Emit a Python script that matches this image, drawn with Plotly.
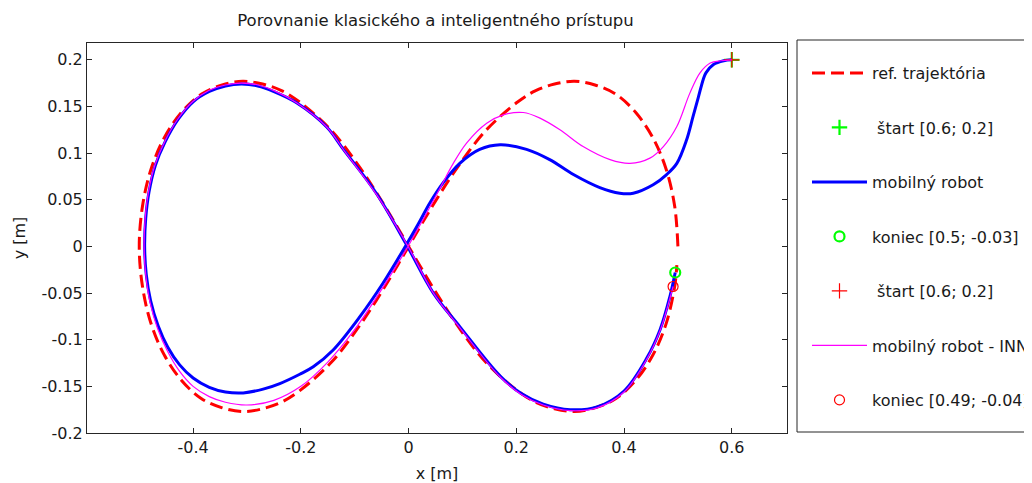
import plotly.graph_objects as go

# ---------------- data ----------------
ref_x = [0.500, 0.494, 0.478, 0.453, 0.421, 0.385, 0.346, 0.308, 0.271, 0.236, 0.203, 0.143, 0.091, 0.044, 0.000,
         -0.044, -0.091, -0.143, -0.203, -0.236, -0.271, -0.308, -0.346, -0.385, -0.421, -0.453, -0.478, -0.494, -0.500,
         -0.494, -0.478, -0.453, -0.421, -0.385, -0.346, -0.308, -0.271, -0.236, -0.203, -0.143, -0.091, -0.044, 0.000,
         0.044, 0.091, 0.143, 0.203, 0.236, 0.271, 0.308, 0.346, 0.385, 0.421, 0.453, 0.478, 0.494, 0.498]
ref_y = [0.000, 0.043, 0.083, 0.117, 0.144, 0.163, 0.173, 0.177, 0.174, 0.167, 0.155, 0.124, 0.085, 0.043, 0.000,
         -0.043, -0.085, -0.124, -0.155, -0.167, -0.174, -0.177, -0.173, -0.163, -0.144, -0.117, -0.083, -0.043, 0.000,
         0.043, 0.083, 0.117, 0.144, 0.163, 0.173, 0.177, 0.174, 0.167, 0.155, 0.124, 0.085, 0.043, 0.000,
         -0.043, -0.085, -0.124, -0.155, -0.167, -0.174, -0.177, -0.173, -0.163, -0.144, -0.117, -0.083, -0.043, -0.020]

robot_x = [0.600, 0.585, 0.566, 0.552, 0.547, 0.538, 0.528, 0.516, 0.498, 0.479, 0.454, 0.417,
           0.392, 0.355, 0.306, 0.262, 0.219, 0.170, 0.132, 0.095, 0.064, 0.040, 0.018, -0.004,
           -0.047, -0.090, -0.140, -0.177, -0.202, -0.239, -0.270, -0.307, -0.340, -0.370, -0.400,
           -0.425, -0.447, -0.465, -0.479, -0.487, -0.490, -0.488, -0.482, -0.470, -0.452, -0.428,
           -0.400, -0.370, -0.340, -0.310, -0.280, -0.250, -0.208, -0.152,
           -0.121, -0.060, -0.004, 0.046, 0.095, 0.170, 0.210, 0.250, 0.300, 0.350, 0.400, 0.442,
           0.467, 0.485, 0.495]
robot_y = [0.200, 0.199, 0.195, 0.186, 0.179, 0.160, 0.139, 0.114, 0.089, 0.077, 0.066, 0.057,
           0.057, 0.063, 0.077, 0.093, 0.104, 0.109, 0.104, 0.089, 0.068, 0.047, 0.024, 0.002,
           -0.039, -0.075, -0.111, -0.129, -0.137, -0.147, -0.153, -0.157, -0.156, -0.151, -0.141,
           -0.127, -0.108, -0.085, -0.058, -0.030, 0.000, 0.030, 0.058, 0.087, 0.112, 0.136,
           0.155, 0.166, 0.172, 0.174, 0.172, 0.166, 0.154, 0.128,
           0.104, 0.057, 0.002, -0.050, -0.086, -0.139, -0.158, -0.169, -0.175, -0.172, -0.155, -0.120,
           -0.089, -0.054, -0.028]

inn_x = [0.600, 0.580, 0.560, 0.541, 0.522, 0.498, 0.473, 0.448, 0.411, 0.374, 0.324, 0.281,
         0.244, 0.213, 0.176, 0.145, 0.108, 0.083, 0.058, 0.029, 0.000, -0.050, -0.100, -0.150,
         -0.200, -0.250, -0.300, -0.340, -0.370, -0.400, -0.425, -0.447, -0.466, -0.480, -0.488,
         -0.491, -0.489, -0.483, -0.471, -0.453, -0.429, -0.401, -0.371, -0.340, -0.310, -0.280,
         -0.250, -0.208, -0.152, -0.120, -0.060, -0.002, 0.046,
         0.095, 0.170, 0.210, 0.250, 0.300, 0.350, 0.400, 0.442, 0.467, 0.483, 0.491]
inn_y = [0.200, 0.199, 0.1965, 0.186, 0.164, 0.1285, 0.107, 0.0946, 0.089, 0.093, 0.107, 0.125,
         0.1375, 0.1435, 0.141, 0.132, 0.111, 0.089, 0.062, 0.031, 0.001, -0.046, -0.089, -0.124,
         -0.150, -0.165, -0.170, -0.167, -0.161, -0.150, -0.134, -0.113, -0.088, -0.060, -0.030,
         0.000, 0.030, 0.058, 0.087, 0.112, 0.136, 0.155, 0.167, 0.173, 0.175, 0.173,
         0.167, 0.154, 0.128, 0.103, 0.056, 0.001, -0.050,
         -0.087, -0.140, -0.159, -0.170, -0.176, -0.173, -0.156, -0.121, -0.090, -0.060, -0.043]

start_pt = [0.6, 0.2]
end_robot = [0.495, -0.028]
end_inn = [0.491, -0.043]

names = ["ref. trajektória", "\u00a0štart [0.6; 0.2]", "mobilný robot", "koniec [0.5; -0.03]",
         "\u00a0štart [0.6; 0.2]", "mobilný robot - INN", "koniec [0.49; -0.04]"]

x_ticks = [-0.4, -0.2, 0, 0.2, 0.4, 0.6]
x_ticktext = ["-0.4", "-0.2", "0", "0.2", "0.4", "0.6"]
y_ticks = [-0.2, -0.15, -0.1, -0.05, 0, 0.05, 0.1, 0.15, 0.2]
y_ticktext = ["-0.2", "-0.15", "-0.1", "-0.05", "0", "0.05", "0.1", "0.15", "0.2"]

FONT = "DejaVu Sans"
TXT = "#1a1a1a"
# page body has an 8px default margin: the figure is drawn 8px right/down
W, H = 1024, 475
L, T, PW, PH = 79, 35, 700, 390

fig = go.Figure()

fig.add_trace(go.Scatter(x=ref_x, y=ref_y, mode="lines", name=names[0], legendgroup="g0",
                         line=dict(color="#ff0000", width=3, dash="13px,6px", shape="spline")))
fig.add_trace(go.Scatter(x=[start_pt[0]], y=[start_pt[1]], mode="markers", name=names[1], legendgroup="g1",
                         marker=dict(symbol="cross-thin", size=11, color="#00ff00",
                                     line=dict(color="#00ff00", width=2.2))))
fig.add_trace(go.Scatter(x=robot_x, y=robot_y, mode="lines", name=names[2], legendgroup="g2",
                         line=dict(color="#0000ff", width=3, shape="spline")))
fig.add_trace(go.Scatter(x=[end_robot[0]], y=[end_robot[1]], mode="markers", name=names[3], legendgroup="g3",
                         marker=dict(symbol="circle-open", size=10, color="#00ff00",
                                     line=dict(color="#00ff00", width=2.2))))
fig.add_trace(go.Scatter(x=[start_pt[0]], y=[start_pt[1]], mode="markers", name=names[4], legendgroup="g4",
                         marker=dict(symbol="cross-thin", size=11, color="#ff0000",
                                     line=dict(color="#ff0000", width=1.2))))
fig.add_trace(go.Scatter(x=inn_x, y=inn_y, mode="lines", name=names[5], legendgroup="g5",
                         line=dict(color="#ff00ff", width=1.2, shape="spline")))
fig.add_trace(go.Scatter(x=[end_inn[0]], y=[end_inn[1]], mode="markers", name=names[6], legendgroup="g6",
                         marker=dict(symbol="circle-open", size=10, color="#ff0000",
                                     line=dict(color="#ff0000", width=1.2))))

axis_common = dict(showline=True, linecolor="#262626", linewidth=1, mirror="ticks",
                   ticks="inside", ticklen=5, tickcolor="#262626", showgrid=False,
                   zeroline=False, tickfont=dict(family=FONT, size=16, color=TXT))

fig.update_layout(
    width=W, height=H,
    margin=dict(l=L, r=W - L - PW, t=T, b=H - T - PH, autoexpand=False),
    paper_bgcolor="white", plot_bgcolor="white",
    font=dict(family=FONT, size=16, color=TXT),
    title=dict(text="Porovnanie klasického a inteligentného prístupu", x=(435.5 - 8) / W, xanchor="center",
               y=1 - 12 / H, yanchor="middle", font=dict(family=FONT, size=16.5, color=TXT)),
    xaxis=dict(range=[-0.597, 0.7025], tickvals=x_ticks, ticktext=x_ticktext,
               title=dict(text="x [m]", standoff=16, font=dict(family=FONT, size=16, color=TXT)),
               **axis_common),
    yaxis=dict(range=[-0.2, 0.218], tickvals=y_ticks, ticktext=y_ticktext,
               title=dict(text="y [m]", standoff=11, font=dict(family=FONT, size=16, color=TXT)),
               **axis_common),
    showlegend=True,
    legend=dict(x=(807 - 87) / PW, xanchor="left", y=(433 - 56) / PH, yanchor="top",
                traceorder="grouped", tracegroupgap=30.7, itemwidth=55,
                bgcolor="rgba(0,0,0,0)", borderwidth=0,
                font=dict(family=FONT, size=16, color=TXT)),
    shapes=[dict(type="rect", xref="paper", yref="paper",
                 x0=(797 - 87) / PW, x1=(1060 - 87) / PW, y0=(433 - 432) / PH, y1=(433 - 40) / PH,
                 line=dict(color="#262626", width=1), fillcolor="rgba(0,0,0,0)", layer="above")],
)

fig.write_html("out.html")
